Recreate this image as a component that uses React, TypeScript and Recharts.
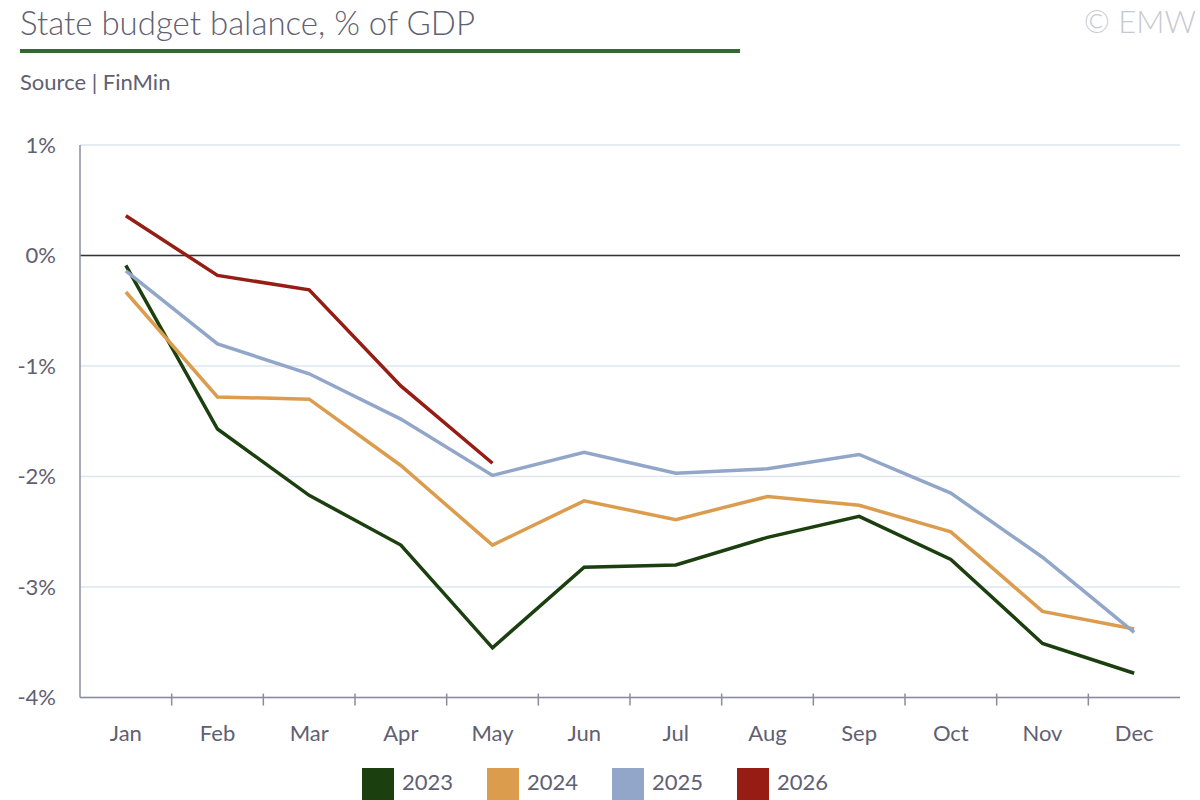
import { LineChart, Line, XAxis, YAxis, CartesianGrid, ReferenceLine, Legend } from "recharts";

const months = ["Jan", "Feb", "Mar", "Apr", "May", "Jun", "Jul", "Aug", "Sep", "Oct", "Nov", "Dec"];
const y2023 = [-0.09, -1.57, -2.17, -2.62, -3.55, -2.82, -2.8, -2.55, -2.36, -2.75, -3.51, -3.78];
const y2024 = [-0.33, -1.28, -1.3, -1.9, -2.62, -2.22, -2.39, -2.18, -2.26, -2.5, -3.22, -3.38];
const y2025 = [-0.14, -0.8, -1.07, -1.48, -1.99, -1.78, -1.97, -1.93, -1.8, -2.15, -2.73, -3.41];
const y2026 = [0.36, -0.18, -0.31, -1.18, -1.88];
const yTicks = [1, 0, -1, -2, -3, -4];

const data = months.map((m, i) => ({
  m,
  a: y2023[i],
  b: y2024[i],
  c: y2025[i],
  d: y2026[i] ?? null,
}));

const W = 1200;
const H = 800;
const PLOT_L = 80;
const PLOT_R = 20;
const HALF_BAND = (W - PLOT_L - PLOT_R) / months.length / 2;
const font = "Lato, 'Open Sans', sans-serif";
const textGray = "#5f6072";

const MonthTick = (props: any) => {
  const { x, y, payload, index } = props;
  return (
    <g>
      {index < months.length - 1 ? (
        <line x1={x + HALF_BAND} x2={x + HALF_BAND} y1={y - 12} y2={y} stroke="#8a8c9c" strokeWidth={1.5} />
      ) : null}
      <text x={x} y={y + 35} textAnchor="middle" fill={textGray} fontSize={22} fontFamily={font}>
        {payload.value}
      </text>
    </g>
  );
};

export default function App() {
  return (
    <div style={{ position: "absolute", left: 0, top: 0, width: W, height: H, background: "#fff", fontFamily: font }}>
      <div style={{ position: "absolute", left: 20, top: 2, fontSize: 33, fontWeight: 300, color: textGray }}>State budget balance, % of GDP</div>
      <div style={{ position: "absolute", left: 20, top: 49, width: 720, height: 4, background: "#2f6b2c" }} />
      <div style={{ position: "absolute", left: 20, top: 68, fontSize: 22, color: textGray }}>Source | FinMin</div>
      <div style={{ position: "absolute", right: 4, top: 2, fontSize: 31, fontWeight: 300, color: "#c8c9d0" }}>© EMW</div>
      <LineChart width={W} height={H} data={data} margin={{ top: 145, right: PLOT_R, left: 20, bottom: 30 }}>
        <CartesianGrid vertical={false} stroke="#dde6ee" strokeWidth={1.5} />
        <XAxis
          dataKey="m"
          scale="band"
          height={40}
          tickLine={false}
          axisLine={{ stroke: "#8a8c9c", strokeWidth: 1.5 }}
          tick={<MonthTick />}
          interval={0}
        />
        <YAxis
          width={60}
          domain={[-4, 1]}
          ticks={yTicks}
          tickFormatter={(v) => `${v}%`}
          tick={{ fill: textGray, fontSize: 22, fontFamily: font }}
          axisLine={{ stroke: "#8a8c9c", strokeWidth: 1.5 }}
          tickLine={false}
          tickMargin={18}
        />
        <ReferenceLine y={0} stroke="#333" strokeWidth={1.5} />
        <Line dataKey="a" name="2023" stroke="#1b3f0e" strokeWidth={3.5} dot={false} isAnimationActive={false} />
        <Line dataKey="b" name="2024" stroke="#dc9c4e" strokeWidth={3.5} dot={false} isAnimationActive={false} />
        <Line dataKey="c" name="2025" stroke="#92a6c9" strokeWidth={3.5} dot={false} isAnimationActive={false} />
        <Line dataKey="d" name="2026" stroke="#951d14" strokeWidth={3.5} dot={false} isAnimationActive={false} />
        <Legend
          iconType="square"
          iconSize={32}
          wrapperStyle={{ bottom: 0, paddingLeft: 12, fontSize: 22, fontFamily: font }}
          formatter={(v) => <span style={{ color: textGray, marginLeft: 4, marginRight: 24 }}>{v}</span>}
        />
      </LineChart>
    </div>
  );
}
